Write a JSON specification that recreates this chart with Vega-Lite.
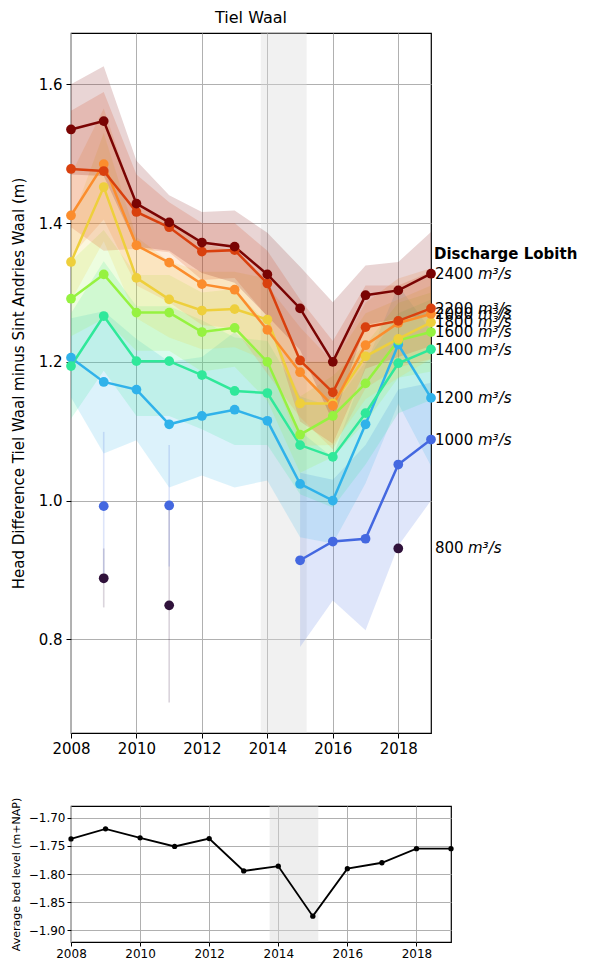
{
"$schema": "https://vega.github.io/schema/vega-lite/v6.json",
"background": "white",
"padding": {"left": 9, "top": 9, "right": 0, "bottom": 0},
"spacing": 39,
"config": {
  "font": "DejaVu Sans",
  "view": {"stroke": "black", "strokeWidth": 1.2},
  "axis": {"domain": false, "grid": true, "gridColor": "#b0b0b0", "gridWidth": 1, "tickColor": "black", "labelColor": "black", "titleColor": "black", "titleFontWeight": "normal", "labelFont": "DejaVu Sans", "titleFont": "DejaVu Sans", "labelFlush": false, "labelOverlap": false, "tickCount": 20}
},
"datasets": {
  "shade1": [{"x0": 2013.8, "x1": 2015.2}],
  "shade2": [{"x0": 2013.75, "x1": 2015.16}],
  "main": [
    {"s": "800", "grp": "800a", "year": 2009, "c": 0.888, "lo": null, "hi": null, "elo": 0.846, "ehi": 0.931},
    {"s": "800", "grp": "800b", "year": 2011, "c": 0.849, "lo": null, "hi": null, "elo": 0.709, "ehi": 0.989},
    {"s": "800", "grp": "800c", "year": 2018, "c": 0.931, "lo": null, "hi": null, "elo": null, "ehi": null},
    {"s": "1000", "grp": "1000a", "year": 2009, "c": 0.992, "lo": null, "hi": null, "elo": 0.885, "ehi": 1.099},
    {"s": "1000", "grp": "1000b", "year": 2011, "c": 0.993, "lo": null, "hi": null, "elo": 0.905, "ehi": 1.08},
    {"s": "1000", "grp": "1000", "year": 2015, "c": 0.914, "lo": 0.789, "hi": 1.04, "elo": null, "ehi": null},
    {"s": "1000", "grp": "1000", "year": 2016, "c": 0.941, "lo": 0.856, "hi": 1.03, "elo": null, "ehi": null},
    {"s": "1000", "grp": "1000", "year": 2017, "c": 0.945, "lo": 0.813, "hi": 1.08, "elo": null, "ehi": null},
    {"s": "1000", "grp": "1000", "year": 2018, "c": 1.052, "lo": 0.935, "hi": 1.16, "elo": null, "ehi": null},
    {"s": "1000", "grp": "1000", "year": 2019, "c": 1.088, "lo": 1.0, "hi": 1.17, "elo": null, "ehi": null},
    {"s": "1200", "grp": "1200", "year": 2008, "c": 1.206, "lo": 1.149, "hi": 1.263},
    {"s": "1200", "grp": "1200", "year": 2009, "c": 1.171, "lo": 1.068, "hi": 1.273},
    {"s": "1200", "grp": "1200", "year": 2010, "c": 1.160, "lo": 1.087, "hi": 1.233},
    {"s": "1200", "grp": "1200", "year": 2011, "c": 1.110, "lo": 1.019, "hi": 1.2},
    {"s": "1200", "grp": "1200", "year": 2012, "c": 1.122, "lo": 1.036, "hi": 1.207},
    {"s": "1200", "grp": "1200", "year": 2013, "c": 1.131, "lo": 1.019, "hi": 1.243},
    {"s": "1200", "grp": "1200", "year": 2014, "c": 1.115, "lo": 1.029, "hi": 1.2},
    {"s": "1200", "grp": "1200", "year": 2015, "c": 1.024, "lo": 0.947, "hi": 1.1},
    {"s": "1200", "grp": "1200", "year": 2016, "c": 1.0, "lo": 0.938, "hi": 1.062},
    {"s": "1200", "grp": "1200", "year": 2017, "c": 1.110, "lo": 1.025, "hi": 1.195},
    {"s": "1200", "grp": "1200", "year": 2018, "c": 1.225, "lo": 1.14, "hi": 1.31},
    {"s": "1200", "grp": "1200", "year": 2019, "c": 1.148, "lo": 1.05, "hi": 1.245},
    {"s": "1400", "grp": "1400", "year": 2008, "c": 1.194, "lo": 1.118, "hi": 1.27},
    {"s": "1400", "grp": "1400", "year": 2009, "c": 1.266, "lo": 1.187, "hi": 1.345},
    {"s": "1400", "grp": "1400", "year": 2010, "c": 1.201, "lo": 1.122, "hi": 1.28},
    {"s": "1400", "grp": "1400", "year": 2011, "c": 1.201, "lo": 1.122, "hi": 1.28},
    {"s": "1400", "grp": "1400", "year": 2012, "c": 1.181, "lo": 1.103, "hi": 1.26},
    {"s": "1400", "grp": "1400", "year": 2013, "c": 1.158, "lo": 1.08, "hi": 1.235},
    {"s": "1400", "grp": "1400", "year": 2014, "c": 1.155, "lo": 1.08, "hi": 1.23},
    {"s": "1400", "grp": "1400", "year": 2015, "c": 1.080, "lo": 1.009, "hi": 1.15},
    {"s": "1400", "grp": "1400", "year": 2016, "c": 1.063, "lo": 0.99, "hi": 1.135},
    {"s": "1400", "grp": "1400", "year": 2017, "c": 1.126, "lo": 1.052, "hi": 1.2},
    {"s": "1400", "grp": "1400", "year": 2018, "c": 1.198, "lo": 1.126, "hi": 1.27},
    {"s": "1400", "grp": "1400", "year": 2019, "c": 1.218, "lo": 1.145, "hi": 1.29},
    {"s": "1600", "grp": "1600", "year": 2008, "c": 1.291, "lo": 1.237, "hi": 1.345},
    {"s": "1600", "grp": "1600", "year": 2009, "c": 1.326, "lo": 1.262, "hi": 1.39},
    {"s": "1600", "grp": "1600", "year": 2010, "c": 1.271, "lo": 1.216, "hi": 1.325},
    {"s": "1600", "grp": "1600", "year": 2011, "c": 1.271, "lo": 1.216, "hi": 1.325},
    {"s": "1600", "grp": "1600", "year": 2012, "c": 1.243, "lo": 1.186, "hi": 1.3},
    {"s": "1600", "grp": "1600", "year": 2013, "c": 1.249, "lo": 1.193, "hi": 1.305},
    {"s": "1600", "grp": "1600", "year": 2014, "c": 1.200, "lo": 1.144, "hi": 1.255},
    {"s": "1600", "grp": "1600", "year": 2015, "c": 1.095, "lo": 1.04, "hi": 1.15},
    {"s": "1600", "grp": "1600", "year": 2016, "c": 1.122, "lo": 1.063, "hi": 1.18},
    {"s": "1600", "grp": "1600", "year": 2017, "c": 1.169, "lo": 1.113, "hi": 1.225},
    {"s": "1600", "grp": "1600", "year": 2018, "c": 1.231, "lo": 1.177, "hi": 1.285},
    {"s": "1600", "grp": "1600", "year": 2019, "c": 1.243, "lo": 1.186, "hi": 1.3},
    {"s": "1800", "grp": "1800", "year": 2008, "c": 1.344, "lo": 1.288, "hi": 1.4},
    {"s": "1800", "grp": "1800", "year": 2009, "c": 1.452, "lo": 1.374, "hi": 1.53},
    {"s": "1800", "grp": "1800", "year": 2010, "c": 1.321, "lo": 1.263, "hi": 1.38},
    {"s": "1800", "grp": "1800", "year": 2011, "c": 1.290, "lo": 1.235, "hi": 1.345},
    {"s": "1800", "grp": "1800", "year": 2012, "c": 1.274, "lo": 1.218, "hi": 1.33},
    {"s": "1800", "grp": "1800", "year": 2013, "c": 1.276, "lo": 1.221, "hi": 1.33},
    {"s": "1800", "grp": "1800", "year": 2014, "c": 1.261, "lo": 1.201, "hi": 1.32},
    {"s": "1800", "grp": "1800", "year": 2015, "c": 1.140, "lo": 1.079, "hi": 1.2},
    {"s": "1800", "grp": "1800", "year": 2016, "c": 1.140, "lo": 1.08, "hi": 1.2},
    {"s": "1800", "grp": "1800", "year": 2017, "c": 1.208, "lo": 1.146, "hi": 1.27},
    {"s": "1800", "grp": "1800", "year": 2018, "c": 1.233, "lo": 1.177, "hi": 1.29},
    {"s": "1800", "grp": "1800", "year": 2019, "c": 1.257, "lo": 1.204, "hi": 1.31},
    {"s": "2000", "grp": "2000", "year": 2008, "c": 1.411, "lo": 1.352, "hi": 1.47},
    {"s": "2000", "grp": "2000", "year": 2009, "c": 1.485, "lo": 1.405, "hi": 1.565},
    {"s": "2000", "grp": "2000", "year": 2010, "c": 1.368, "lo": 1.31, "hi": 1.425},
    {"s": "2000", "grp": "2000", "year": 2011, "c": 1.343, "lo": 1.286, "hi": 1.4},
    {"s": "2000", "grp": "2000", "year": 2012, "c": 1.312, "lo": 1.253, "hi": 1.37},
    {"s": "2000", "grp": "2000", "year": 2013, "c": 1.304, "lo": 1.248, "hi": 1.36},
    {"s": "2000", "grp": "2000", "year": 2014, "c": 1.246, "lo": 1.183, "hi": 1.31},
    {"s": "2000", "grp": "2000", "year": 2015, "c": 1.185, "lo": 1.12, "hi": 1.25},
    {"s": "2000", "grp": "2000", "year": 2016, "c": 1.137, "lo": 1.074, "hi": 1.2},
    {"s": "2000", "grp": "2000", "year": 2017, "c": 1.224, "lo": 1.162, "hi": 1.285},
    {"s": "2000", "grp": "2000", "year": 2018, "c": 1.256, "lo": 1.192, "hi": 1.32},
    {"s": "2000", "grp": "2000", "year": 2019, "c": 1.269, "lo": 1.204, "hi": 1.335},
    {"s": "2200", "grp": "2200", "year": 2008, "c": 1.478, "lo": 1.394, "hi": 1.562},
    {"s": "2200", "grp": "2200", "year": 2009, "c": 1.475, "lo": 1.36, "hi": 1.589},
    {"s": "2200", "grp": "2200", "year": 2010, "c": 1.416, "lo": 1.363, "hi": 1.47},
    {"s": "2200", "grp": "2200", "year": 2011, "c": 1.394, "lo": 1.358, "hi": 1.43},
    {"s": "2200", "grp": "2200", "year": 2012, "c": 1.359, "lo": 1.318, "hi": 1.4},
    {"s": "2200", "grp": "2200", "year": 2013, "c": 1.361, "lo": 1.321, "hi": 1.4},
    {"s": "2200", "grp": "2200", "year": 2014, "c": 1.313, "lo": 1.265, "hi": 1.36},
    {"s": "2200", "grp": "2200", "year": 2015, "c": 1.202, "lo": 1.114, "hi": 1.29},
    {"s": "2200", "grp": "2200", "year": 2016, "c": 1.156, "lo": 1.082, "hi": 1.23},
    {"s": "2200", "grp": "2200", "year": 2017, "c": 1.250, "lo": 1.19, "hi": 1.31},
    {"s": "2200", "grp": "2200", "year": 2018, "c": 1.259, "lo": 1.207, "hi": 1.31},
    {"s": "2200", "grp": "2200", "year": 2019, "c": 1.277, "lo": 1.223, "hi": 1.33},
    {"s": "2400", "grp": "2400", "year": 2008, "c": 1.535, "lo": 1.47, "hi": 1.6},
    {"s": "2400", "grp": "2400", "year": 2009, "c": 1.547, "lo": 1.468, "hi": 1.626},
    {"s": "2400", "grp": "2400", "year": 2010, "c": 1.428, "lo": 1.366, "hi": 1.49},
    {"s": "2400", "grp": "2400", "year": 2011, "c": 1.401, "lo": 1.36, "hi": 1.44},
    {"s": "2400", "grp": "2400", "year": 2012, "c": 1.372, "lo": 1.328, "hi": 1.416},
    {"s": "2400", "grp": "2400", "year": 2013, "c": 1.366, "lo": 1.314, "hi": 1.418},
    {"s": "2400", "grp": "2400", "year": 2014, "c": 1.326, "lo": 1.266, "hi": 1.386},
    {"s": "2400", "grp": "2400", "year": 2015, "c": 1.277, "lo": 1.217, "hi": 1.337},
    {"s": "2400", "grp": "2400", "year": 2016, "c": 1.200, "lo": 1.114, "hi": 1.286},
    {"s": "2400", "grp": "2400", "year": 2017, "c": 1.296, "lo": 1.253, "hi": 1.339},
    {"s": "2400", "grp": "2400", "year": 2018, "c": 1.303, "lo": 1.262, "hi": 1.344},
    {"s": "2400", "grp": "2400", "year": 2019, "c": 1.327, "lo": 1.267, "hi": 1.387}
  ],
  "labs": [
    {"s": "2400", "n": 2400, "t": "2400", "y": 1.327},
    {"s": "2200", "n": 2200, "t": "2200", "y": 1.2766},
    {"s": "2000", "n": 2000, "t": "2000", "y": 1.2693},
    {"s": "1800", "n": 1800, "t": "1800", "y": 1.257},
    {"s": "1600", "n": 1600, "t": "1600", "y": 1.2428},
    {"s": "1400", "n": 1400, "t": "1400", "y": 1.2175},
    {"s": "1200", "n": 1200, "t": "1200", "y": 1.148},
    {"s": "1000", "n": 1000, "t": "1000", "y": 1.088},
    {"s": "800", "n": 800, "t": "800", "y": 0.9314}
  ],
  "head": [{"t": "Discharge Lobith", "y": 1.355}],
  "bed": [
    {"year": 2008, "z": -1.7375},
    {"year": 2009, "z": -1.7196},
    {"year": 2010, "z": -1.7357},
    {"year": 2011, "z": -1.751},
    {"year": 2012, "z": -1.737},
    {"year": 2013, "z": -1.7946},
    {"year": 2014, "z": -1.786},
    {"year": 2015, "z": -1.875},
    {"year": 2016, "z": -1.7905},
    {"year": 2017, "z": -1.78},
    {"year": 2018, "z": -1.755},
    {"year": 2019, "z": -1.755}
  ]
},
"vconcat": [
  {
    "width": 360,
    "height": 700,
    "title": {"text": "Tiel Waal", "fontSize": 16, "fontWeight": "normal", "offset": 7, "color": "black", "font": "DejaVu Sans"},
    "layer": [
      {
        "data": {"name": "shade1"},
        "mark": {"type": "rect", "color": "#d9d9d9", "opacity": 0.38},
        "encoding": {
          "x": {"field": "x0", "type": "quantitative", "scale": {"domain": [2008, 2019], "nice": false, "zero": false},
                "axis": {"values": [2008, 2010, 2012, 2014, 2016, 2018], "format": "d", "labelFontSize": 15, "tickSize": 5, "labelPadding": 3, "title": null}},
          "x2": {"field": "x1"}
        }
      },
      {
        "data": {"name": "main"},
        "transform": [{"filter": "isValid(datum.lo)"}],
        "mark": {"type": "area", "fillOpacity": 0.17, "stroke": null},
        "encoding": {
          "x": {"field": "year", "type": "quantitative"},
          "y": {"field": "lo", "type": "quantitative", "scale": {"domain": [0.665, 1.674], "nice": false, "zero": false},
                "axis": {"values": [0.8, 1.0, 1.2, 1.4, 1.6], "format": ".1f", "labelFontSize": 15, "tickSize": 5, "labelPadding": 4, "title": "Head Difference Tiel Waal minus Sint Andries Waal (m)", "titleFontSize": 15, "titlePadding": 12}},
          "y2": {"field": "hi"},
          "color": {"field": "s", "type": "nominal", "legend": null,
                    "scale": {"domain": ["800", "1000", "1200", "1400", "1600", "1800", "2000", "2200", "2400"],
                              "range": ["#30123b", "#4468e0", "#30b2ea", "#30e89a", "#96f240", "#eecf3c", "#fb8d2d", "#d9400e", "#7a0403"]}}
        }
      },
      {
        "data": {"name": "main"},
        "transform": [{"filter": "isValid(datum.elo)"}],
        "mark": {"type": "rule", "strokeWidth": 1.6, "opacity": 0.18},
        "encoding": {
          "x": {"field": "year", "type": "quantitative"},
          "y": {"field": "elo", "type": "quantitative"},
          "y2": {"field": "ehi"},
          "color": {"field": "s", "type": "nominal", "legend": null}
        }
      },
      {
        "data": {"name": "main"},
        "mark": {"type": "line", "strokeWidth": 2.5},
        "encoding": {
          "x": {"field": "year", "type": "quantitative"},
          "y": {"field": "c", "type": "quantitative"},
          "color": {"field": "s", "type": "nominal", "legend": null},
          "detail": {"field": "grp"}
        }
      },
      {
        "data": {"name": "main"},
        "mark": {"type": "circle", "size": 95, "opacity": 1},
        "encoding": {
          "x": {"field": "year", "type": "quantitative"},
          "y": {"field": "c", "type": "quantitative"},
          "color": {"field": "s", "type": "nominal", "legend": null}
        }
      },
      {
        "data": {"name": "labs"},
        "mark": {"type": "text", "align": "left", "baseline": "middle", "dx": 4, "fontSize": 15, "color": "black"},
        "encoding": {
          "x": {"datum": 2019, "type": "quantitative"},
          "y": {"field": "y", "type": "quantitative"},
          "text": {"field": "t"}
        }
      },
      {
        "data": {"name": "labs"},
        "transform": [{"filter": "datum.n >= 1000"}],
        "mark": {"type": "text", "align": "left", "baseline": "middle", "dx": 47, "fontSize": 15, "fontStyle": "italic", "color": "black"},
        "encoding": {
          "x": {"datum": 2019, "type": "quantitative"},
          "y": {"field": "y", "type": "quantitative"},
          "text": {"value": "m³/s"}
        }
      },
      {
        "data": {"name": "labs"},
        "transform": [{"filter": "datum.n < 1000"}],
        "mark": {"type": "text", "align": "left", "baseline": "middle", "dx": 37, "fontSize": 15, "fontStyle": "italic", "color": "black"},
        "encoding": {
          "x": {"datum": 2019, "type": "quantitative"},
          "y": {"field": "y", "type": "quantitative"},
          "text": {"value": "m³/s"}
        }
      },
      {
        "data": {"name": "head"},
        "mark": {"type": "text", "align": "left", "baseline": "middle", "dx": 3, "fontSize": 15, "fontWeight": "bold", "color": "black"},
        "encoding": {
          "x": {"datum": 2019, "type": "quantitative"},
          "y": {"field": "y", "type": "quantitative"},
          "text": {"field": "t"}
        }
      }
    ]
  },
  {
    "width": 380,
    "height": 136,
    "layer": [
      {
        "data": {"name": "shade2"},
        "mark": {"type": "rect", "color": "#d9d9d9", "opacity": 0.45},
        "encoding": {
          "x": {"field": "x0", "type": "quantitative", "scale": {"domain": [2008, 2019], "nice": false, "zero": false},
                "axis": {"values": [2008, 2010, 2012, 2014, 2016, 2018], "format": "d", "labelFontSize": 12, "tickSize": 4, "labelPadding": 2, "title": null}},
          "x2": {"field": "x1"}
        }
      },
      {
        "data": {"name": "bed"},
        "mark": {"type": "line", "color": "black", "strokeWidth": 1.8},
        "encoding": {
          "x": {"field": "year", "type": "quantitative"},
          "y": {"field": "z", "type": "quantitative", "scale": {"domain": [-1.921, -1.679], "nice": false, "zero": false},
                "axis": {"values": [-1.9, -1.85, -1.8, -1.75, -1.7], "tickCount": 20, "format": ".2f", "labelExpr": "replace(datum.label, '-', '−')", "labelFontSize": 12, "tickSize": 4, "labelPadding": 2, "title": "Average bed level (m+NAP)", "titleFontSize": 11, "titlePadding": 7}}
        }
      },
      {
        "data": {"name": "bed"},
        "mark": {"type": "circle", "color": "black", "size": 28, "opacity": 1},
        "encoding": {
          "x": {"field": "year", "type": "quantitative"},
          "y": {"field": "z", "type": "quantitative"}
        }
      }
    ]
  }
]
}
